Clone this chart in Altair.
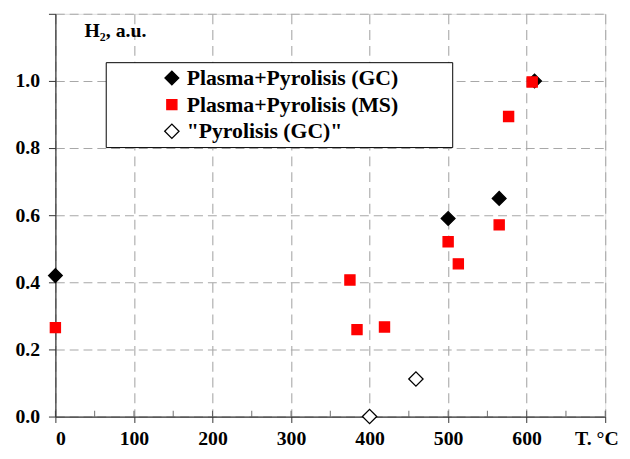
import altair as alt
import pandas as pd

series_names = ["Plasma+Pyrolisis (GC)", "Plasma+Pyrolisis (MS)", "\"Pyrolisis (GC)\""]

gc_T = [0, 500, 565, 610]
gc_H = [0.42, 0.59, 0.65, 1.0]

ms_T = [0, 375, 384, 419, 500, 513, 565, 577, 607]
ms_H = [0.265, 0.407, 0.259, 0.267, 0.521, 0.455, 0.571, 0.894, 0.997]

py_T = [400, 459]
py_H = [0.0, 0.112]

x_ticks = [0, 50, 100, 150, 200, 250, 300, 350, 400, 450, 500, 550, 600, 650, 700]
y_ticks = [0.0, 0.05, 0.1, 0.15, 0.2, 0.25, 0.3, 0.35, 0.4, 0.45, 0.5, 0.55, 0.6,
           0.65, 0.7, 0.75, 0.8, 0.85, 0.9, 0.95, 1.0, 1.05, 1.1, 1.15, 1.2]

rows = []
for t, h in zip(gc_T, gc_H):
    rows.append({"T": t, "H": h, "series": series_names[0], "order": 0})
for t, h in zip(ms_T, ms_H):
    rows.append({"T": t, "H": h, "series": series_names[1], "order": 1})
for t, h in zip(py_T, py_H):
    rows.append({"T": t, "H": h, "series": series_names[2], "order": 2})
df = pd.DataFrame(rows)
ticks_df = pd.DataFrame({"T": x_ticks})

FONT = "Liberation Serif"
# blank padding so the legend frame gets its wide right margin
LABEL_PAD = "\u00a0" * 6 + "\u2800"

x_scale = alt.Scale(domain=[0, 700], nice=False, zero=False)
y_scale = alt.Scale(domain=[0, 1.2], nice=False, zero=False)

legend = alt.Legend(
    title=None,
    orient="none",
    legendX=51,
    legendY=49,
    fillColor="white",
    strokeColor="black",
    padding=5,
    symbolOffset=51,
    labelFont=FONT,
    labelFontSize=22,
    labelFontWeight="bold",
    labelColor="black",
    labelOffset=4,
    labelLimit=600,
    rowPadding=5,
    symbolStrokeWidth=1.3,
    labelExpr="datum.label + '" + LABEL_PAD + "'",
)

points = alt.Chart(df).mark_point(opacity=1, fillOpacity=1, strokeWidth=1.3).encode(
    x=alt.X(
        "T:Q",
        scale=x_scale,
        axis=alt.Axis(
            values=x_ticks,
            title="T. °C",
            titleX=548,
            titleY=22,
            titleAlign="center",
            titleBaseline="middle",
            titleFont=FONT,
            titleFontSize=20,
            titleFontWeight="bold",
            titleColor="black",
            labelExpr="(datum.value % 100 === 0 && datum.value < 700) ? datum.label : ''",
            format="d",
            labelFont=FONT,
            labelFontSize=20,
            labelFontWeight="bold",
            labelColor="black",
            labelPadding=6,
            tickSize=6,
            tickColor="#333333",
            tickOpacity={"condition": {"test": "datum.value % 100 === 0", "value": 1}, "value": 0},
            domainColor="#333333",
            domainWidth=1.2,
            grid=True,
            gridColor="#a8a8a8",
            gridDash=[10, 6],
            gridWidth=1.1,
        ),
    ),
    y=alt.Y(
        "H:Q",
        scale=y_scale,
        axis=alt.Axis(
            values=y_ticks,
            title="H₂, a.u.",
            titleAngle=0,
            titleX=29,
            titleY=17,
            titleAlign="left",
            titleBaseline="middle",
            titleFont=FONT,
            titleFontSize=20,
            titleFontWeight="bold",
            titleColor="black",
            labelExpr="(round(datum.value * 100) % 20 === 0 && datum.value < 1.1) ? format(datum.value, '.1f') : ''",
            labelFont=FONT,
            labelFontSize=20,
            labelFontWeight="bold",
            labelColor="black",
            labelPadding=9,
            tickSize=7,
            tickColor="#333333",
            domainColor="#333333",
            domainWidth=1.2,
            grid=True,
            gridColor="#a8a8a8",
            gridDash=[9, 5],
            gridWidth=1.1,
        ),
    ),
    shape=alt.Shape("series:N", scale=alt.Scale(domain=series_names, range=["diamond", "square", "diamond"]), legend=legend),
    fill=alt.Fill("series:N", scale=alt.Scale(domain=series_names, range=["black", "#ff0000", "white"]), legend=legend),
    stroke=alt.Stroke("series:N", scale=alt.Scale(domain=series_names, range=["black", "#ff0000", "black"]), legend=legend),
    size=alt.Size("series:N", scale=alt.Scale(type="ordinal", domain=series_names, range=[195, 105, 210]), legend=legend),
    order=alt.Order("order:Q"),
)

inner_ticks = alt.Chart(ticks_df).mark_tick(
    orient="vertical", size=6, thickness=1, color="#333333", yOffset=-3
).encode(
    x=alt.X("T:Q", scale=x_scale),
    y=alt.Y(datum=0, scale=y_scale),
)

chart = alt.layer(inner_ticks, points).properties(
    width=557,
    height=408,
    autosize=alt.AutoSizeParams(type="none"),
    padding={"left": 48, "top": 3, "right": 17, "bottom": 32},
).configure_view(stroke=None).configure(background="white")

chart.save("out.html", embed_options={"renderer": "svg", "actions": False})
